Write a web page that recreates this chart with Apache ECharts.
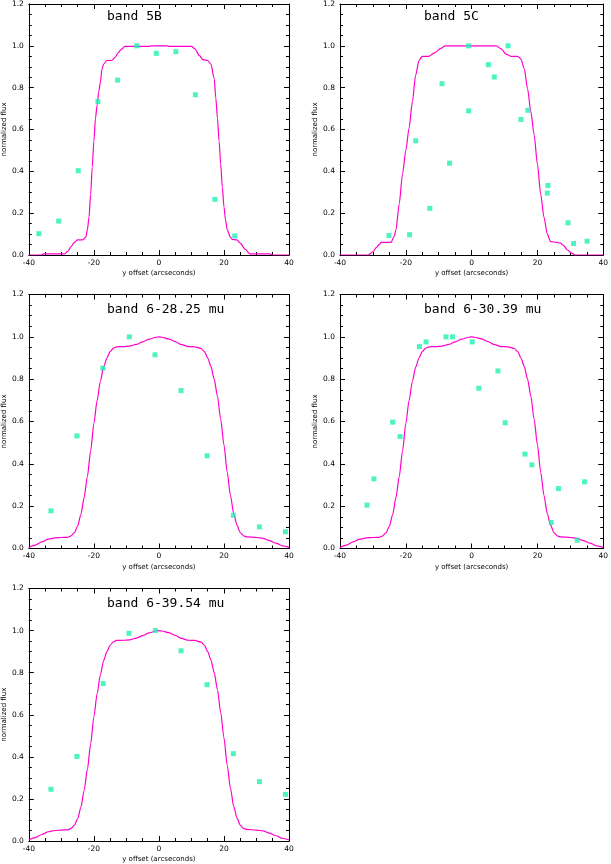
<!DOCTYPE html>
<html>
<head>
<meta charset="utf-8">
<script src="https://cdn.jsdelivr.net/npm/echarts@6/dist/echarts.min.js"></script>
<style>
html,body{margin:0;padding:0;background:#fff;}
#chart{width:611px;height:864px;}
</style>
</head>
<body>
<div id="chart"></div>
<script>
// ---- data ----
var titles = ['band 5B', 'band 5C', 'band 6-28.25 mu', 'band 6-30.39 mu', 'band 6-39.54 mu'];
var xTicks = [-40, -20, 0, 20, 40];
var yTicks = [0.0, 0.2, 0.4, 0.6, 0.8, 1.0, 1.2];

// model curve, band 5B
var model5B_x = [-40, -36, -35.5, -29, -28, -27, -26, -25, -23.5, -22.5, -22, -21.5, -21, -20.5, -20, -19.5, -19, -18.5, -18, -17.5, -17, -16, -14.5, -13.5, -12.5, -11.5, -10.5, -3, -2.5, 2.5, 3, 10, 11, 12.5, 13.5, 15, 16, 17, 17.5, 18, 18.5, 19, 19.5, 20, 20.5, 21, 22, 22.5, 24, 25, 26.5, 28, 34, 35, 40];
var model5B_y = [0, 0, 0.005, 0.005, 0.017, 0.04, 0.06, 0.072, 0.072, 0.085, 0.12, 0.18, 0.29, 0.42, 0.544, 0.654, 0.717, 0.78, 0.827, 0.89, 0.913, 0.93, 0.93, 0.945, 0.968, 0.984, 0.997, 0.997, 1.0, 1.0, 0.997, 0.997, 0.987, 0.953, 0.934, 0.93, 0.913, 0.843, 0.75, 0.654, 0.544, 0.434, 0.324, 0.23, 0.167, 0.12, 0.085, 0.075, 0.072, 0.057, 0.028, 0.005, 0.005, 0, 0];

// model curve, band 5C
var model5C_x = [-40, -31.5, -30, -29, -28, -27.5, -24.5, -23.5, -23, -22, -21, -20, -19, -18, -17, -16, -15, -13, -11, -9.5, -8, 7.5, 9, 10.5, 12, 14, 15, 16, 17, 18, 19, 20, 21, 22, 23, 24, 26, 27, 28, 29, 30.5, 31.5, 40];
var model5C_y = [0, 0, 0.015, 0.035, 0.052, 0.06, 0.06, 0.09, 0.12, 0.245, 0.387, 0.5, 0.607, 0.733, 0.86, 0.93, 0.95, 0.95, 0.969, 0.987, 1.0, 1.0, 0.985, 0.96, 0.95, 0.95, 0.937, 0.89, 0.795, 0.685, 0.575, 0.434, 0.29, 0.18, 0.10, 0.064, 0.06, 0.057, 0.045, 0.025, 0.008, 0, 0];

// model curve, band 6
var model6_x = [-40, -38, -36, -34, -32, -30, -28, -27, -26, -25, -24, -23, -22, -21, -20, -19, -18, -17, -16, -15, -14, -13, -11, -9, -7, -5, -3, -1, 0, 1, 3, 5, 7, 9, 11, 13, 14, 15, 16, 17, 18, 19, 20, 21, 22, 23, 24, 25, 26, 27, 30, 32, 34, 36, 38, 40];
var model6_y = [0.005, 0.016, 0.031, 0.044, 0.05, 0.052, 0.053, 0.06, 0.075, 0.105, 0.16, 0.24, 0.34, 0.46, 0.59, 0.70, 0.79, 0.857, 0.9, 0.93, 0.947, 0.953, 0.954, 0.956, 0.964, 0.976, 0.989, 0.998, 1.0, 0.998, 0.99, 0.977, 0.963, 0.954, 0.953, 0.945, 0.93, 0.9, 0.86, 0.8, 0.72, 0.61, 0.49, 0.36, 0.25, 0.165, 0.11, 0.075, 0.06, 0.055, 0.052, 0.048, 0.037, 0.025, 0.012, 0.005];

// measured points
var obs5B_x = [-36.9, -30.8, -24.8, -18.75, -12.7, -6.8, -0.8, 5.2, 11.2, 17.2, 23.3];
var obs5B_y = [0.102, 0.162, 0.403, 0.734, 0.836, 1.0, 0.964, 0.972, 0.766, 0.266, 0.091];

var obs5C_x = [-25.1, -18.85, -17.0, -12.7, -9.0, -6.7, -0.9, -0.9, 5.1, 6.9, 11.1, 15.0, 17.1, 23.2, 23.0, 29.3, 31.0, 35.1];
var obs5C_y = [0.093, 0.097, 0.546, 0.223, 0.819, 0.439, 1.0, 0.689, 0.910, 0.851, 1.0, 0.648, 0.692, 0.332, 0.296, 0.154, 0.055, 0.066];

var obs628_x = [-33.2, -25.2, -17.25, -9.1, -1.2, 6.8, 14.8, 22.9, 30.9, 38.9];
var obs628_y = [0.178, 0.532, 0.852, 1.0, 0.915, 0.746, 0.438, 0.157, 0.102, 0.079];

var obs630_x = [-31.8, -29.7, -24.0, -21.75, -15.85, -13.85, -7.8, -5.8, 0.2, 2.2, 8.0, 10.2, 16.2, 18.3, 24.2, 26.4, 32.1, 34.3];
var obs630_y = [0.205, 0.329, 0.597, 0.529, 0.954, 0.976, 1.0, 1.0, 0.976, 0.757, 0.839, 0.594, 0.446, 0.395, 0.123, 0.283, 0.039, 0.315];

var obs639_x = [-33.2, -25.2, -17.15, -9.2, -1.1, 6.8, 14.8, 22.9, 30.9, 38.9];
var obs639_y = [0.246, 0.402, 0.748, 0.987, 1.0, 0.904, 0.743, 0.415, 0.282, 0.222];

// ---- build ----
function zip(a, b) { return a.map(function (v, i) { return [v, b[i]]; }); }
var models = [[model5B_x, model5B_y], [model5C_x, model5C_y], [model6_x, model6_y], [model6_x, model6_y], [model6_x, model6_y]];
var obs = [[obs5B_x, obs5B_y], [obs5C_x, obs5C_y], [obs628_x, obs628_y], [obs630_x, obs630_y], [obs639_x, obs639_y]];

var boxes = [
  {left: 23, top: 1, width: 266, height: 254},
  {left: 340, top: 1, width: 266, height: 254},
  {left: 23, top: 294.5, width: 266, height: 254},
  {left: 340, top: 294.5, width: 266, height: 254},
  {left: 23, top: 588.5, width: 266, height: 253}
];

var FONT = 'DejaVu Sans';
var MAGENTA = '#ff00cc';
var MINT = '#20f0b0';

var grids = [], xAxes = [], yAxes = [], series = [], titleArr = [];
var axisLine = {show: true, onZero: false, lineStyle: {color: '#000', width: 1}};
var tick = {show: true, inside: true, length: 5, lineStyle: {color: '#000', width: 1}};
var minor = {show: true, splitNumber: 4, length: 3, lineStyle: {color: '#000', width: 1}};

boxes.forEach(function (b, i) {
  grids.push({left: b.left, top: b.top, width: b.width, height: b.height, containLabel: false});
  var xmin = xTicks[0], xmax = xTicks[xTicks.length - 1], xint = xTicks[1] - xTicks[0];
  var ymin = yTicks[0], ymax = yTicks[yTicks.length - 1], yint = yTicks[1] - yTicks[0];
  xAxes.push({
    type: 'value', gridIndex: i, position: 'bottom', min: xmin, max: xmax, interval: xint,
    axisLine: axisLine, axisTick: tick, minorTick: minor, splitLine: {show: false},
    axisLabel: {fontSize: 7.5, color: '#000', margin: 4, fontFamily: FONT},
    name: 'y offset (arcseconds)', nameLocation: 'middle', nameGap: 15,
    nameTextStyle: {fontSize: 7, color: '#000', fontFamily: FONT}
  });
  xAxes.push({
    type: 'value', gridIndex: i, position: 'top', min: xmin, max: xmax, interval: xint,
    axisLine: axisLine, axisTick: tick, minorTick: minor, splitLine: {show: false},
    axisLabel: {show: false}
  });
  yAxes.push({
    type: 'value', gridIndex: i, position: 'left', min: ymin, max: ymax, interval: yint,
    axisLine: axisLine, axisTick: tick, minorTick: minor, splitLine: {show: false},
    axisLabel: {fontSize: 7.5, color: '#000', margin: 5, fontFamily: FONT,
      formatter: function (v) { return v.toFixed(1); }},
    name: 'normalized flux', nameLocation: 'middle', nameGap: 17, nameRotate: 90,
    nameTextStyle: {fontSize: 7, color: '#000', fontFamily: FONT}
  });
  yAxes.push({
    type: 'value', gridIndex: i, position: 'right', min: ymin, max: ymax, interval: yint,
    axisLine: axisLine, axisTick: tick, minorTick: minor, splitLine: {show: false},
    axisLabel: {show: false}
  });
  series.push({
    type: 'line', xAxisIndex: 2 * i, yAxisIndex: 2 * i, data: zip(models[i][0], models[i][1]),
    showSymbol: false, symbol: 'none', smooth: 0.25, smoothMonotone: 'x',
    lineStyle: {color: MAGENTA, width: 1.2}, z: 2, silent: true, animation: false
  });
  series.push({
    type: 'scatter', xAxisIndex: 2 * i, yAxisIndex: 2 * i, data: zip(obs[i][0], obs[i][1]),
    symbol: 'rect', symbolSize: 5, itemStyle: {color: MINT}, z: 3, silent: true, animation: false
  });
  titleArr.push({
    text: titles[i], left: b.left + 84, top: b.top + 9, padding: 0,
    textStyle: {fontFamily: 'DejaVu Sans Mono', fontSize: 13, fontWeight: 'normal', color: '#000'}
  });
});

var chart = echarts.init(document.getElementById('chart'), null, {renderer: 'canvas'});
chart.setOption({
  backgroundColor: '#fff',
  animation: false,
  title: titleArr,
  grid: grids,
  xAxis: xAxes,
  yAxis: yAxes,
  series: series
});
</script>
</body>
</html>
